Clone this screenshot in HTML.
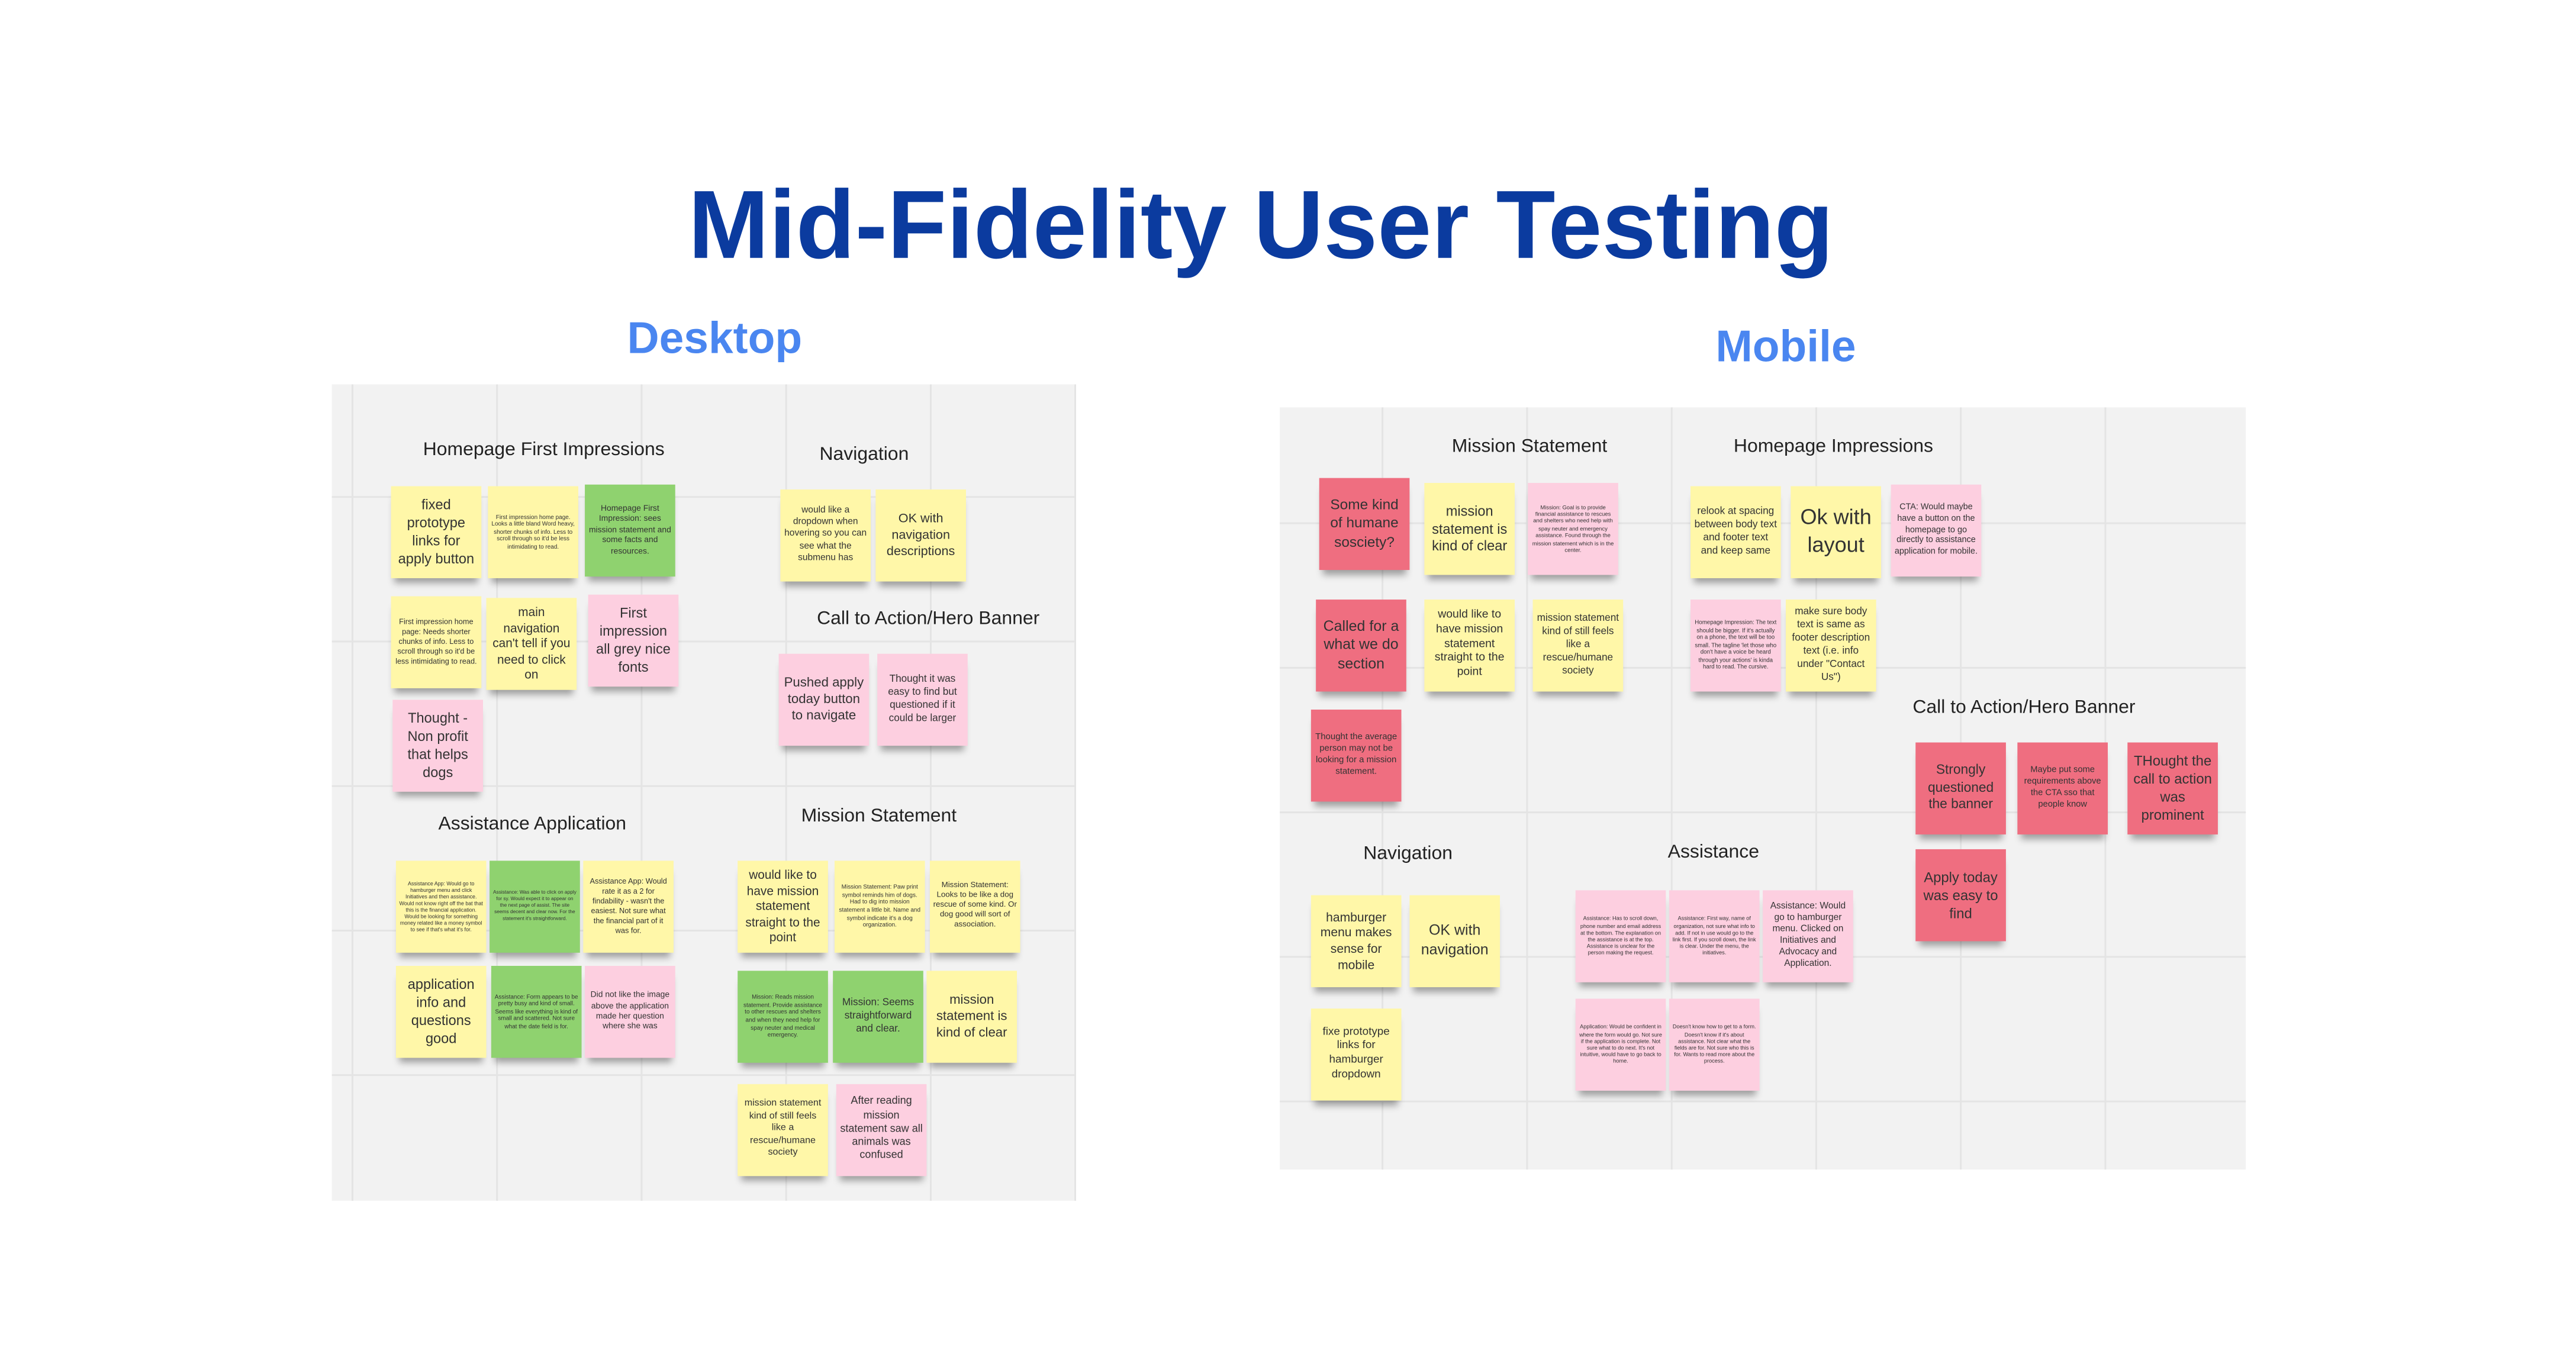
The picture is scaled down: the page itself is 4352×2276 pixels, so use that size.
<!DOCTYPE html>
<html><head><meta charset="utf-8"><style>
html,body{margin:0;padding:0;background:#fff;}
body{width:4352px;height:2274px;overflow:hidden;position:relative;}
#w{position:absolute;left:0;top:0;width:1568px;height:820px;transform:scale(2.7755);transform-origin:0 0;font-family:"Liberation Sans",sans-serif;}
.t{position:absolute;white-space:nowrap;text-align:center;}
.b{position:absolute;background-color:#f2f2f2;background-image:linear-gradient(#e4e4e4 1px,transparent 1px),linear-gradient(90deg,#e4e4e4 1px,transparent 1px);background-size:88px 88px;}
.h{position:absolute;font-size:11.5px;color:#222;white-space:nowrap;transform:translateX(-50%);}
.s{position:absolute;width:55px;height:56px;display:flex;align-items:center;justify-content:center;text-align:center;color:#333;line-height:1.28;padding:2px;box-sizing:border-box;box-shadow:0 5px 4px -2px rgba(0,0,0,.35);overflow:hidden;}
.y{background:#fff7a8}.g{background:#8fd26f}.p{background:#fdcfe0}.r{background:#ef6e80}
</style></head><body><div id="w">
<div class="t" style="left:0;width:1535px;top:103px;font-size:59px;font-weight:bold;color:#0b3b9f;">Mid-Fidelity User Testing</div>
<div class="t" style="left:335px;width:200px;top:191px;font-size:27px;font-weight:bold;color:#4a86f0;">Desktop</div>
<div class="t" style="left:987px;width:200px;top:196px;font-size:27px;font-weight:bold;color:#4a86f0;">Mobile</div>

<div class="b" style="left:202px;top:234px;width:453px;height:497px;background-position:12px 68px;"></div>
<div class="b" style="left:779px;top:248px;width:588px;height:464px;background-position:62px 70px;"></div>

<!-- Desktop -->
<div class="h" style="left:331px;top:268px;">Homepage First Impressions</div>
<div class="s y" style="left:238px;top:296px;font-size:8.5px;">fixed prototype links for apply button</div>
<div class="s y" style="left:297px;top:296px;font-size:3.6px;">First impression home page. Looks a little bland Word heavy, shorter chunks of info. Less to scroll through so it'd be less intimidating to read.</div>
<div class="s g" style="left:356px;top:295px;font-size:5px;">Homepage First Impression: sees mission statement and some facts and resources.</div>
<div class="s y" style="left:238px;top:363px;font-size:4.6px;">First impression home page: Needs shorter chunks of info. Less to scroll through so it'd be less intimidating to read.</div>
<div class="s y" style="left:296px;top:364px;font-size:7.5px;">main navigation can't tell if you need to click on</div>
<div class="s p" style="left:358px;top:362px;font-size:8.5px;">First impression all grey nice fonts</div>
<div class="s p" style="left:239px;top:426px;font-size:8.5px;">Thought - Non profit that helps dogs</div>

<div class="h" style="left:526px;top:271px;">Navigation</div>
<div class="s y" style="left:475px;top:298px;font-size:5.6px;">would like a dropdown when hovering so you can see what the submenu has</div>
<div class="s y" style="left:533px;top:298px;font-size:7.8px;">OK with navigation descriptions</div>
<div class="h" style="left:565px;top:371px;">Call to Action/Hero Banner</div>
<div class="s p" style="left:474px;top:398px;font-size:8px;">Pushed apply today button to navigate</div>
<div class="s p" style="left:534px;top:398px;font-size:6.2px;">Thought it was easy to find but questioned if it could be larger</div>

<div class="h" style="left:324px;top:496px;">Assistance Application</div>
<div class="s y" style="left:241px;top:524px;font-size:3.2px;">Assistance App: Would go to hamburger menu and click Initiatives and then assistance. Would not know right off the bat that this is the financial application. Would be looking for something money related like a money symbol to see if that's what it's for.</div>
<div class="s g" style="left:298px;top:524px;font-size:3px;">Assistance: Was able to click on apply for sy. Would expect it to appear on the next page of assist. The site seems decent and clear now. For the statement it's straightforward.</div>
<div class="s y" style="left:355px;top:524px;font-size:4.6px;">Assistance App: Would rate it as a 2 for findability - wasn't the easiest. Not sure what the financial part of it was for.</div>
<div class="s y" style="left:241px;top:588px;font-size:8.5px;">application info and questions good</div>
<div class="s g" style="left:299px;top:588px;font-size:3.6px;">Assistance: Form appears to be pretty busy and kind of small. Seems like everything is kind of small and scattered. Not sure what the date field is for.</div>
<div class="s p" style="left:356px;top:588px;font-size:5px;">Did not like the image above the application made her question where she was</div>

<div class="h" style="left:535px;top:491px;">Mission Statement</div>
<div class="s y" style="left:449px;top:524px;font-size:7.5px;">would like to have mission statement straight to the point</div>
<div class="s y" style="left:508px;top:524px;font-size:3.6px;">Mission Statement: Paw print symbol reminds him of dogs. Had to dig into mission statement a little bit. Name and symbol indicate it's a dog organization.</div>
<div class="s y" style="left:566px;top:524px;font-size:4.8px;">Mission Statement: Looks to be like a dog rescue of some kind. Or dog good will sort of association.</div>
<div class="s g" style="left:449px;top:591px;font-size:3.6px;">Mission: Reads mission statement. Provide assistance to other rescues and shelters and when they need help for spay neuter and medical emergency.</div>
<div class="s g" style="left:507px;top:591px;font-size:6.2px;">Mission: Seems straightforward and clear.</div>
<div class="s y" style="left:564px;top:591px;font-size:8px;">mission statement is kind of clear</div>
<div class="s y" style="left:449px;top:660px;font-size:5.8px;">mission statement kind of still feels like a rescue/humane society</div>
<div class="s p" style="left:509px;top:660px;font-size:6.5px;">After reading mission statement saw all animals was confused</div>

<!-- Mobile -->
<div class="h" style="left:931px;top:266px;">Mission Statement</div>
<div class="s r" style="left:803px;top:291px;font-size:8.8px;">Some kind of humane sosciety?</div>
<div class="s y" style="left:867px;top:294px;font-size:8.5px;">mission statement is kind of clear</div>
<div class="s p" style="left:930px;top:294px;font-size:3.4px;">Mission: Goal is to provide financial assistance to rescues and shelters who need help with spay neuter and emergency assistance. Found through the mission statement which is in the center.</div>
<div class="s r" style="left:801px;top:365px;font-size:9px;">Called for a what we do section</div>
<div class="s y" style="left:867px;top:365px;font-size:7px;">would like to have mission statement straight to the point</div>
<div class="s y" style="left:933px;top:365px;font-size:6.2px;">mission statement kind of still feels like a rescue/humane society</div>
<div class="s r" style="left:798px;top:432px;font-size:5.4px;">Thought the average person may not be looking for a mission statement.</div>

<div class="h" style="left:1116px;top:266px;">Homepage Impressions</div>
<div class="s y" style="left:1029px;top:296px;font-size:6.2px;">relook at spacing between body text and footer text and keep same</div>
<div class="s y" style="left:1090px;top:296px;font-size:13px;">Ok with layout</div>
<div class="s p" style="left:1151px;top:295px;font-size:5.2px;">CTA: Would maybe have a button on the homepage to go directly to assistance application for mobile.</div>
<div class="s p" style="left:1029px;top:365px;font-size:3.5px;">Homepage Impression: The text should be bigger. If it's actually on a phone, the text will be too small. The tagline 'let those who don't have a voice be heard through your actions' is kinda hard to read. The cursive.</div>
<div class="s y" style="left:1087px;top:365px;font-size:6.2px;">make sure body text is same as footer description text (i.e. info under "Contact Us")</div>

<div class="h" style="left:1232px;top:425px;">Call to Action/Hero Banner</div>
<div class="s r" style="left:1166px;top:452px;font-size:8.2px;">Strongly questioned the banner</div>
<div class="s r" style="left:1228px;top:452px;font-size:5.3px;">Maybe put some requirements above the CTA sso that people know</div>
<div class="s r" style="left:1295px;top:452px;font-size:8.6px;">THought the call to action was prominent</div>
<div class="s r" style="left:1166px;top:517px;font-size:8.6px;">Apply today was easy to find</div>

<div class="h" style="left:857px;top:514px;">Navigation</div>
<div class="s y" style="left:798px;top:545px;font-size:7.6px;">hamburger menu makes sense for mobile</div>
<div class="s y" style="left:858px;top:545px;font-size:9px;">OK with navigation</div>
<div class="s y" style="left:798px;top:614px;font-size:6.8px;">fixe prototype links for hamburger dropdown</div>

<div class="h" style="left:1043px;top:513px;">Assistance</div>
<div class="s p" style="left:959px;top:542px;font-size:3.3px;">Assistance: Has to scroll down, phone number and email address at the bottom. The explanation on the assistance is at the top. Assistance is unclear for the person making the request.</div>
<div class="s p" style="left:1016px;top:542px;font-size:3.3px;">Assistance: First way, name of organization, not sure what info to add. If not in use would go to the link first. If you scroll down, the link is clear. Under the menu, the initiatives.</div>
<div class="s p" style="left:1073px;top:542px;font-size:5.6px;">Assistance: Would go to hamburger menu. Clicked on Initiatives and Advocacy and Application.</div>
<div class="s p" style="left:959px;top:608px;font-size:3.3px;">Application: Would be confident in where the form would go. Not sure if the application is complete. Not sure what to do next. It's not intuitive, would have to go back to home.</div>
<div class="s p" style="left:1016px;top:608px;font-size:3.3px;">Doesn't know how to get to a form. Doesn't know if it's about assistance. Not clear what the fields are for. Not sure who this is for. Wants to read more about the process.</div>
</div></body></html>
